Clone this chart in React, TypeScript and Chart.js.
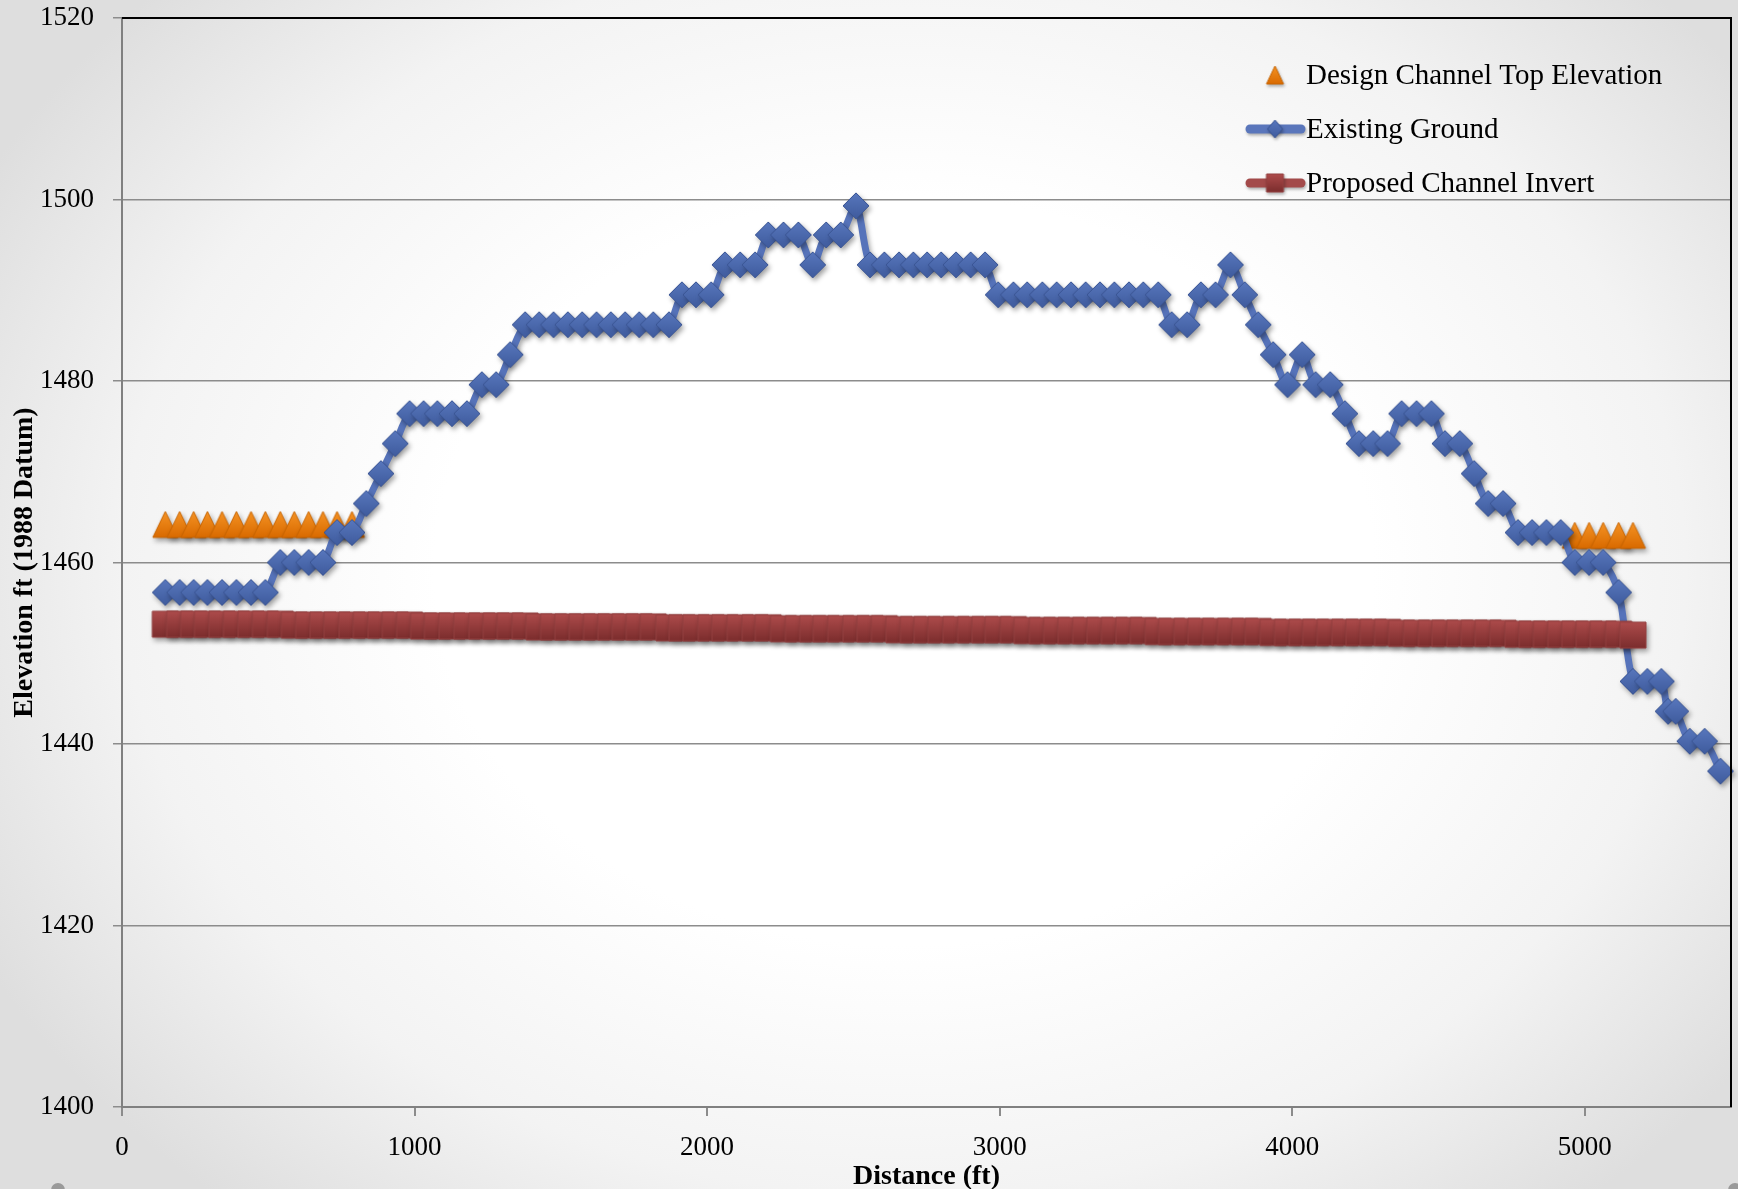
import React, { useEffect, useRef } from 'react';
import { Chart, registerables } from 'chart.js';

Chart.register(...registerables);

const WIDTH = 1738;
const HEIGHT = 1189;
const FONT = '"Liberation Serif", "Times New Roman", Times, serif';

// Station distance (ft) of each surveyed point
const distanceFt = [
  148, 197, 245, 292, 342, 391, 441, 490, 541, 589,
  638, 687, 735, 786, 835, 885, 934, 983, 1031, 1078,
  1128, 1179, 1230, 1279, 1327, 1378, 1426, 1475, 1524, 1573,
  1622, 1671, 1720, 1768, 1816, 1870, 1914, 1962, 2014, 2061,
  2113, 2164, 2209, 2261, 2312, 2361, 2407, 2457, 2509, 2557,
  2606, 2656, 2705, 2752, 2800, 2851, 2901, 2950, 2995, 3047,
  3094, 3146, 3195, 3244, 3294, 3343, 3392, 3442, 3491, 3542,
  3588, 3641, 3688, 3738, 3789, 3838, 3884, 3935, 3984, 4034,
  4080, 4130, 4180, 4228, 4277, 4326, 4374, 4425, 4476, 4522,
  4573, 4622, 4670, 4721, 4772, 4820, 4869, 4918, 4966, 5015,
  5063, 5116, 5165, 5214, 5262, 5285, 5311, 5359, 5410, 5464,
];

// Existing Ground elevation (ft)
const groundElevationFt = [
  1456.7, 1456.7, 1456.7, 1456.7, 1456.7, 1456.7, 1456.7, 1456.7, 1460.0, 1460.0,
  1460.0, 1460.0, 1463.3, 1463.3, 1466.5, 1469.8, 1473.1, 1476.4, 1476.4, 1476.4,
  1476.4, 1476.4, 1479.6, 1479.6, 1482.9, 1486.2, 1486.2, 1486.2, 1486.2, 1486.2,
  1486.2, 1486.2, 1486.2, 1486.2, 1486.2, 1486.2, 1489.5, 1489.5, 1489.5, 1492.8,
  1492.8, 1492.8, 1496.1, 1496.1, 1496.1, 1492.8, 1496.1, 1496.1, 1499.3, 1492.8,
  1492.8, 1492.8, 1492.8, 1492.8, 1492.8, 1492.8, 1492.8, 1492.8, 1489.5, 1489.5,
  1489.5, 1489.5, 1489.5, 1489.5, 1489.5, 1489.5, 1489.5, 1489.5, 1489.5, 1489.5,
  1486.2, 1486.2, 1489.5, 1489.5, 1492.8, 1489.5, 1486.2, 1482.9, 1479.6, 1482.9,
  1479.6, 1479.6, 1476.4, 1473.1, 1473.1, 1473.1, 1476.4, 1476.4, 1476.4, 1473.1,
  1473.1, 1469.8, 1466.5, 1466.5, 1463.3, 1463.3, 1463.3, 1463.3, 1460.0, 1460.0,
  1460.0, 1456.7, 1446.9, 1446.9, 1446.9, 1443.6, 1443.6, 1440.3, 1440.3, 1437.0,
];

// Proposed Channel Invert elevation (ft), at the first 103 stations
const invertElevationFt = [
  1453.2, 1453.2, 1453.2, 1453.2, 1453.2, 1453.2, 1453.2, 1453.2, 1453.2, 1453.1,
  1453.1, 1453.1, 1453.1, 1453.1, 1453.1, 1453.1, 1453.1, 1453.1, 1453.0, 1453.0,
  1453.0, 1453.0, 1453.0, 1453.0, 1453.0, 1453.0, 1452.9, 1452.9, 1452.9, 1452.9,
  1452.9, 1452.9, 1452.9, 1452.9, 1452.9, 1452.8, 1452.8, 1452.8, 1452.8, 1452.8,
  1452.8, 1452.8, 1452.8, 1452.7, 1452.7, 1452.7, 1452.7, 1452.7, 1452.7, 1452.7,
  1452.7, 1452.6, 1452.6, 1452.6, 1452.6, 1452.6, 1452.6, 1452.6, 1452.6, 1452.6,
  1452.5, 1452.5, 1452.5, 1452.5, 1452.5, 1452.5, 1452.5, 1452.5, 1452.5, 1452.4,
  1452.4, 1452.4, 1452.4, 1452.4, 1452.4, 1452.4, 1452.4, 1452.3, 1452.3, 1452.3,
  1452.3, 1452.3, 1452.3, 1452.3, 1452.3, 1452.3, 1452.2, 1452.2, 1452.2, 1452.2,
  1452.2, 1452.2, 1452.2, 1452.2, 1452.1, 1452.1, 1452.1, 1452.1, 1452.1, 1452.1,
  1452.1, 1452.1, 1452.0,
];

// Design Channel Top Elevation (ft)
const designTopDistanceFt = [
  148, 197, 245, 292, 342, 391, 441, 490, 541, 589, 638, 687, 735, 786,
  4966, 5015, 5063, 5116, 5165,
];
const designTopElevationFt = [
  1464.2, 1464.2, 1464.2, 1464.2, 1464.2, 1464.2, 1464.2, 1464.2, 1464.2, 1464.2, 1464.2, 1464.2, 1464.2, 1464.2,
  1463.0, 1463.0, 1463.0, 1463.0, 1463.0,
];

const seriesLabels = ['Design Channel Top Elevation', 'Existing Ground', 'Proposed Channel Invert'];
const xTickValues = [0, 1000, 2000, 3000, 4000, 5000];
const yTickValues = [1400, 1420, 1440, 1460, 1480, 1500, 1520];
const xAxisTitle = 'Distance (ft)';
const yAxisTitle = 'Elevation ft (1988 Datum)';

type Shape = 'diamond' | 'square' | 'triangle';

function makeMarker(shape: Shape, w: number, h: number, top: string, bottom: string, stroke: string) {
  const pad = 2;
  const c = document.createElement('canvas');
  c.width = w + pad * 2;
  c.height = h + pad * 2;
  const ctx = c.getContext('2d')!;
  const cx = c.width / 2;
  const cy = c.height / 2;
  ctx.beginPath();
  if (shape === 'diamond') {
    ctx.moveTo(cx, cy - h / 2);
    ctx.lineTo(cx + w / 2, cy);
    ctx.lineTo(cx, cy + h / 2);
    ctx.lineTo(cx - w / 2, cy);
  } else if (shape === 'square') {
    ctx.rect(cx - w / 2, cy - h / 2, w, h);
  } else {
    ctx.moveTo(cx, cy - h / 2);
    ctx.lineTo(cx + w / 2, cy + h / 2);
    ctx.lineTo(cx - w / 2, cy + h / 2);
  }
  ctx.closePath();
  const g = ctx.createLinearGradient(0, cy - h / 2, 0, cy + h / 2);
  g.addColorStop(0, top);
  g.addColorStop(1, bottom);
  ctx.fillStyle = g;
  ctx.fill();
  ctx.lineWidth = 1;
  ctx.strokeStyle = stroke;
  ctx.stroke();
  return c;
}

export default function App() {
  const canvasRef = useRef<HTMLCanvasElement>(null);

  useEffect(() => {
    const canvas = canvasRef.current;
    if (!canvas) return;

    const triangle = makeMarker('triangle', 25, 26, '#f59324', '#d96a00', '#c86400');
    const diamond = makeMarker('diamond', 26, 26, '#5877bd', '#3f5b9d', '#3a5594');
    const square = makeMarker('square', 26, 26, '#ad4b4b', '#7b2d2d', '#944040');
    const legTriangle = makeMarker('triangle', 17, 18, '#f59324', '#d96a00', '#c86400');
    const legDiamond = makeMarker('diamond', 15, 18, '#5877bd', '#3f5b9d', '#3a5594');
    const legSquare = makeMarker('square', 17, 18, '#ad4b4b', '#7b2d2d', '#944040');

    const shadowPlugin = {
      id: 'markerShadow',
      beforeDatasetDraw(chart: any) {
        const c = chart.ctx;
        c.save();
        c.shadowColor = 'rgba(0,0,0,0.35)';
        c.shadowBlur = 5;
        c.shadowOffsetX = 2;
        c.shadowOffsetY = 3;
      },
      afterDatasetDraw(chart: any) {
        chart.ctx.restore();
      },
    };

    const framePlugin = {
      id: 'frameAndLegend',
      afterDraw(chart: any) {
        const { ctx, chartArea } = chart;
        const { left, right, top, bottom } = chartArea;
        ctx.save();
        ctx.strokeStyle = '#000';
        ctx.lineWidth = 2;
        ctx.beginPath();
        ctx.moveTo(left, top);
        ctx.lineTo(right, top);
        ctx.lineTo(right, bottom);
        ctx.stroke();

        // legend
        const mx = 1275;
        const tx = 1306;
        const rows = [75, 129, 183];
        ctx.shadowColor = 'rgba(0,0,0,0.3)';
        ctx.shadowBlur = 3;
        ctx.shadowOffsetX = 1;
        ctx.shadowOffsetY = 2;
        ctx.drawImage(legTriangle, mx - legTriangle.width / 2, rows[0] - legTriangle.height / 2);
        ctx.lineCap = 'round';
        ctx.lineWidth = 9;
        ctx.strokeStyle = '#5a76bb';
        ctx.beginPath();
        ctx.moveTo(1250, rows[1]);
        ctx.lineTo(1301, rows[1]);
        ctx.stroke();
        ctx.drawImage(legDiamond, mx - legDiamond.width / 2, rows[1] - legDiamond.height / 2);
        ctx.strokeStyle = '#a34a4a';
        ctx.beginPath();
        ctx.moveTo(1250, rows[2]);
        ctx.lineTo(1301, rows[2]);
        ctx.stroke();
        ctx.drawImage(legSquare, mx - legSquare.width / 2, rows[2] - legSquare.height / 2);
        ctx.shadowColor = 'transparent';
        ctx.fillStyle = '#000';
        ctx.font = `29px ${FONT}`;
        ctx.textAlign = 'left';
        ctx.textBaseline = 'middle';
        seriesLabels.forEach((t, i) => ctx.fillText(t, tx, rows[i] + 1));
        ctx.restore();
      },
    };

    const chart = new Chart(canvas, {
      type: 'line',
      data: {
        datasets: [
          {
            label: seriesLabels[0],
            data: designTopDistanceFt.map((x, i) => ({ x, y: designTopElevationFt[i] })),
            showLine: false,
            pointStyle: triangle as any,
            pointRadius: 13,
            order: 3,
            clip: false as any,
          },
          {
            label: seriesLabels[1],
            data: distanceFt.map((x, i) => ({ x, y: groundElevationFt[i] })),
            borderColor: '#5673ba',
            borderWidth: 7,
            tension: 0.3,
            pointStyle: diamond as any,
            pointRadius: 13,
            order: 2,
            clip: false as any,
          },
          {
            label: seriesLabels[2],
            data: invertElevationFt.map((y, i) => ({ x: distanceFt[i], y })),
            borderColor: '#a04444',
            borderWidth: 7,
            tension: 0,
            pointStyle: square as any,
            pointRadius: 13,
            order: 1,
            clip: false as any,
          },
        ],
      },
      options: {
        responsive: false,
        animation: false,
        devicePixelRatio: 1,
        layout: { autoPadding: false, padding: { top: 18, right: 7, left: 0, bottom: 0 } },
        plugins: {
          legend: { display: false },
          tooltip: { enabled: false },
        },
        scales: {
          x: {
            type: 'linear',
            min: 0,
            max: 5500,
            afterFit: (s: any) => {
              s.height = 82;
              s.paddingLeft = 0;
              s.paddingRight = 0;
              s.paddingTop = 0;
              s.paddingBottom = 0;
            },
            afterBuildTicks: (s: any) => {
              s.ticks = xTickValues.map((v) => ({ value: v }));
            },
            ticks: {
              font: { family: FONT, size: 27 },
              color: '#000',
              padding: 16,
              maxRotation: 0,
              callback: (v: any) => String(v),
            },
            grid: {
              drawOnChartArea: false,
              drawTicks: true,
              tickLength: 9,
              color: '#8c8c8c',
              lineWidth: 2,
            },
            border: { display: true, color: '#808080', width: 2 },
            title: {
              display: true,
              text: xAxisTitle,
              font: { family: FONT, size: 28, weight: 'bold' },
              color: '#000',
              padding: { top: 0, bottom: -5 },
            },
          },
          y: {
            type: 'linear',
            min: 1400,
            max: 1520,
            afterFit: (s: any) => {
              s.width = 122;
              s.paddingLeft = 0;
              s.paddingRight = 0;
              s.paddingTop = 0;
              s.paddingBottom = 0;
            },
            afterBuildTicks: (s: any) => {
              s.ticks = yTickValues.map((v) => ({ value: v }));
            },
            ticks: {
              font: { family: FONT, size: 27 },
              color: '#000',
              padding: 19,
              callback: (v: any) => String(v),
            },
            grid: {
              color: '#8c8c8c',
              lineWidth: 1.5,
              tickLength: 9,
            },
            border: { display: true, color: '#808080', width: 2 },
            title: {
              display: true,
              text: yAxisTitle,
              font: { family: FONT, size: 28, weight: 'bold' },
              color: '#000',
              padding: { top: 8, bottom: 0 },
            },
          },
        },
      },
      plugins: [shadowPlugin, framePlugin],
    } as any);

    return () => chart.destroy();
  }, []);

  return (
    <div
      style={{
        position: 'fixed',
        left: 0,
        top: 0,
        width: WIDTH,
        height: HEIGHT,
        overflow: 'hidden',
        background:
          'radial-gradient(ellipse 60% 70% at 52% 48%, #ffffff 0%, #ffffff 45%, #f3f3f3 75%, #dedede 100%)',
      }}
    >
      <canvas ref={canvasRef} width={WIDTH} height={HEIGHT} style={{ display: 'block' }} />
      <div style={{ position: 'absolute', left: 51, top: 1183, width: 14, height: 14, borderRadius: '50%', background: '#9a9a9a' }} />
      <div style={{ position: 'absolute', left: 1728, top: 1183, width: 14, height: 14, borderRadius: '50%', background: '#9a9a9a' }} />
    </div>
  );
}
